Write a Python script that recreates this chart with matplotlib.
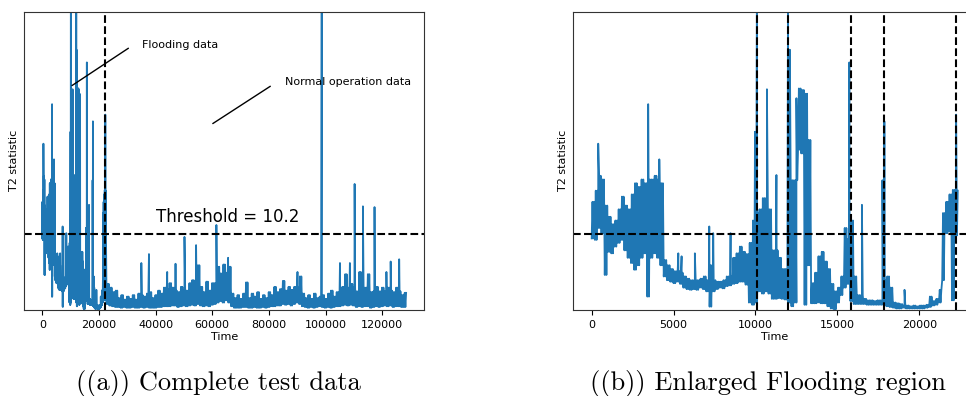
import numpy as np
import matplotlib
matplotlib.use("Agg")
import matplotlib.pyplot as plt

# ---- T2 statistic, flooding part (samples 0 .. 22400), 200-sample bins:
# lower and upper level of the noise band inside each bin
flood_lo = [9.6, 9.4, 11.0, 10.3, 4.7, 7.8, 7.6, 8.5, 9.0, 9.4,
            8.0, 7.0, 6.3, 5.4, 6.0, 7.0, 7.6, 1.8, 7.0, 7.6,
            7.0, 6.0, 4.5, 4.0, 3.8, 3.6, 3.8, 3.5, 3.0, 2.8,
            2.7, 2.8, 2.7, 3.0, 2.8, 2.5, 0.45, 2.5, 2.8, 3.0,
            2.9, 3.2, 3.3, 3.5, 3.6, 3.8, 3.8, 3.4, 1.0, 0.7,
            1.0, 2.5, 2.2, 2.5, 2.2, 1.5, 1.5, 1.6, 1.5, 1.4,
            1.0, 0.5, 1.0, 21.5, 21.0, 0.7, 6.0, 0.9, 0.9, 1.0,
            0.9, 0.9, 0.5, 0.2, 0.1, 1.0, 2.0, 3.0, 3.5, 1.2,
            0.8, 0.8, 0.8, 0.8, 0.7, 0.7, 0.7, 0.7, 0.7, 0.7,
            0.5, 0.4, 0.3, 0.2, 0.2, 0.3, 0.2, 0.2, 0.2, 0.2,
            0.2, 0.2, 0.3, 0.4, 0.6, 0.7, 1.0, 4.0, 10.3, 10.5,
            1.3, 10.0]
flood_hi = [14.5, 16.0, 18.0, 17.5, 14.0, 12.5, 11.5, 12.0, 13.5, 15.2,
            14.0, 13.5, 15.5, 17.0, 16.5, 17.5, 17.0, 17.5, 17.5, 18.0,
            17.5, 17.0, 6.7, 6.0, 5.5, 5.2, 5.2, 5.0, 4.5, 4.2,
            4.0, 4.0, 4.0, 4.2, 4.5, 4.0, 6.0, 4.0, 3.8, 3.8,
            4.0, 4.5, 4.5, 7.0, 7.6, 8.5, 7.8, 7.5, 9.0, 12.0,
            13.0, 13.5, 15.0, 15.0, 13.5, 8.0, 8.0, 7.0, 5.5, 5.5,
            17.0, 17.4, 17.4, 29.7, 29.5, 29.0, 22.8, 3.6, 5.0, 7.2,
            7.8, 6.5, 5.5, 3.5, 2.5, 3.0, 4.5, 11.0, 9.5, 12.0,
            4.5, 2.0, 2.0, 1.5, 1.3, 1.3, 1.2, 1.3, 1.3, 4.0,
            4.5, 3.0, 1.0, 0.9, 0.8, 0.6, 0.6, 0.5, 0.6, 0.5,
            0.6, 0.6, 0.7, 1.8, 1.2, 1.5, 2.7, 13.0, 14.5, 15.5,
            16.1, 16.0]

# ---- T2 statistic, normal operation part (samples 22700 .. 128200), 1000-sample bins
normal_lo = [0.8, 0.6, 0.5, 0.4, 0.4, 0.3, 0.4, 0.3, 0.3, 0.4,
             0.3, 0.3, 0.4, 0.3, 0.4, 0.3, 0.3, 0.3, 0.4, 0.4,
             0.5, 0.5, 0.5, 0.6, 0.6, 0.4, 0.5, 0.6, 0.5, 0.6,
             0.7, 0.6, 0.8, 0.6, 0.5, 0.6, 0.5, 0.7, 0.8, 1.0,
             1.2, 1.0, 1.3, 1.0, 0.5, 0.3, 0.3, 0.3, 0.4, 0.4,
             0.3, 0.3, 0.4, 0.3, 0.3, 0.4, 0.3, 0.4, 0.5, 0.5,
             0.6, 0.6, 0.8, 0.7, 0.8, 0.6, 0.8, 1.0, 0.8, 0.5,
             0.4, 0.3, 0.4, 0.3, 0.4, 0.5, 0.4, 0.3, 0.4, 0.3,
             0.4, 0.5, 0.5, 0.6, 0.7, 0.6, 0.7, 0.6, 0.4, 0.5,
             0.4, 0.5, 0.5, 0.3, 0.4, 0.5, 0.4, 0.5, 0.6, 0.5,
             0.6, 0.4, 0.5, 0.5, 0.4, 0.4]
normal_hi = [3.5, 3.0, 2.4, 2.6, 1.6, 2.0, 1.4, 1.8, 1.5, 2.0,
             1.4, 2.2, 2.0, 1.8, 2.2, 2.4, 1.6, 2.0, 2.6, 2.2,
             3.0, 2.8, 3.6, 3.0, 2.6, 2.4, 3.1, 2.6, 2.6, 3.6,
             4.0, 3.5, 6.0, 3.1, 2.4, 3.8, 2.6, 3.6, 3.6, 5.8,
             4.9, 6.1, 5.0, 5.8, 2.2, 1.6, 2.0, 1.5, 2.2, 3.7,
             1.6, 2.2, 1.8, 2.4, 1.5, 2.0, 1.6, 2.4, 2.0, 3.1,
             2.4, 2.8, 3.9, 2.6, 3.1, 2.7, 3.1, 3.0, 4.5, 2.2,
             1.6, 2.0, 1.5, 2.2, 1.6, 1.8, 2.0, 1.5, 2.2, 2.6,
             1.8, 2.4, 2.4, 3.1, 4.8, 3.0, 3.5, 3.0, 2.5, 5.1,
             2.5, 3.0, 4.8, 2.4, 2.5, 3.1, 2.5, 3.0, 2.5, 3.0,
             2.6, 2.4, 3.0, 2.5, 2.0, 2.3]

# ---- isolated spikes of the statistic (sample, value)
spike_time = [400, 3450, 4130, 5290, 5490, 6300, 7180, 7420, 8480, 9970,
              10090, 10700, 11280, 11990, 12100, 12500, 15730, 16500, 17750,
              17870, 19100, 22250,
              34970, 37660, 44100, 47040, 50200, 54300, 61470, 65600, 90100,
              98660, 105100, 108600, 110270, 113200, 117300, 121500, 123000,
              126000]
spike_value = [22.3, 27.6, 20.2, 7.6, 7.2, 7.6, 11.2, 10.3, 10.3, 23.9,
               45.0, 29.6, 18.1, 45.0, 34.9, 28.4, 33.2, 14.1, 17.4,
               25.3, 2.7, 26.2,
               6.3, 7.5, 5.1, 6.2, 9.8, 8.7, 11.4, 7.0, 5.1,
               45.0, 6.3, 6.3, 16.9, 13.9, 13.8, 5.1, 6.5,
               6.8]

threshold = 10.2
flood_bounds = [10080, 12000, 15820, 17850, 22240]
ylim_top = 40
xticks_full = [0, 20000, 40000, 60000, 80000, 100000, 120000]
xticks_zoom = [0, 5000, 10000, 15000, 20000]


def binned_trace(start, step, lo, hi, cycles=2):
    """Trace that swings between each bin's low and high level."""
    lo = np.repeat(lo, cycles)
    hi = np.repeat(hi, cycles)
    sub = step / cycles
    t0 = start + np.arange(len(lo)) * sub
    t = np.empty(2 * len(lo))
    v = np.empty(2 * len(lo))
    t[0::2], t[1::2] = t0, t0 + sub / 2
    v[0::2], v[1::2] = lo, hi
    return t, v


t_a, v_a = binned_trace(0, 200, flood_lo, flood_hi)
t_b, v_b = binned_trace(22700, 1000, normal_lo, normal_hi)
time = np.concatenate([t_a, t_b, spike_time])
t2 = np.concatenate([v_a, v_b, spike_value])
order = np.argsort(time, kind="stable")
time, t2 = time[order], t2[order]

W, H = 966, 396
fig = plt.figure(figsize=(W / 100, H / 100), dpi=100)

blue = "#1f77b4"
small = 8

# (a) complete test data
ax1 = fig.add_axes([24.1 / W, (H - 310) / H, 400.2 / W, 298.3 / H])
ax1.plot(time, t2, color=blue, lw=1.3)
ax1.axhline(threshold, color="black", ls="--", lw=1.5)
ax1.axvline(flood_bounds[-1], color="black", ls="--", lw=1.5)
ax1.set_ylim(0, ylim_top)
ax1.set_yticks([])
ax1.set_xticks(xticks_full)
ax1.tick_params(labelsize=small)
ax1.set_xlabel("Time", fontsize=small, labelpad=2)
ax1.set_ylabel("T2 statistic", fontsize=small)
ax1.text(40000, 11.8, f"Threshold = {threshold}", fontsize=12)
ax1.annotate("", xy=(10500, 30.1), xytext=(30400, 35.1),
             arrowprops=dict(arrowstyle="-", color="black", lw=1.0,
                             shrinkA=0, shrinkB=0))
ax1.text(35300, 35.6, "Flooding data", fontsize=small, va="center")
ax1.annotate("", xy=(60200, 25.0), xytext=(80500, 30.0),
             arrowprops=dict(arrowstyle="-", color="black", lw=1.0,
                             shrinkA=0, shrinkB=0))
ax1.text(85650, 30.6, "Normal operation data", fontsize=small, va="center")

# (b) enlarged flooding region
mask = time <= 22400
ax2 = fig.add_axes([573.4 / W, (H - 310) / H, 401.8 / W, 298.3 / H])
ax2.plot(time[mask], t2[mask], color=blue, lw=1.3)
ax2.axhline(threshold, color="black", ls="--", lw=1.5)
for b in flood_bounds:
    ax2.axvline(b, color="black", ls="--", lw=1.5)
ax2.set_ylim(0, ylim_top)
ax2.set_yticks([])
ax2.set_xticks(xticks_zoom)
ax2.set_xlim(-1115, 23415)
ax2.tick_params(labelsize=small)
ax2.set_xlabel("Time", fontsize=small, labelpad=2)
ax2.set_ylabel("T2 statistic", fontsize=small)

for ax in (ax1, ax2):
    for s in ax.spines.values():
        s.set_color("#333333")

fig.text(218.5 / W, (H - 390) / H, "((a)) Complete test data",
         family="cmr10", fontsize=19, ha="center", va="baseline")
fig.text(767.5 / W, (H - 390) / H, "((b)) Enlarged Flooding region",
         family="cmr10", fontsize=19, ha="center", va="baseline")

fig.savefig("out.png", dpi=100)
